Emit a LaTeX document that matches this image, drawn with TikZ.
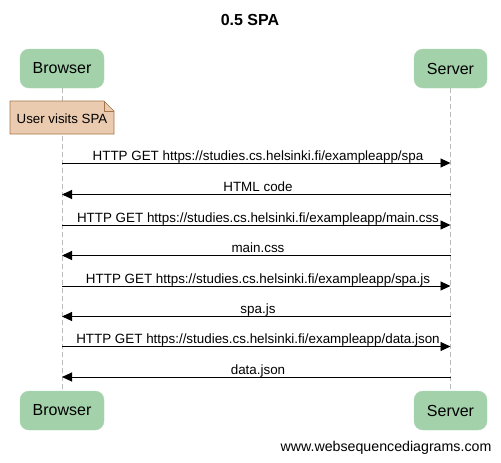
\documentclass[tikz,border=0pt]{standalone}
\usepackage{fontspec}
\setmainfont{Liberation Sans}
\usetikzlibrary{arrows.meta}
\definecolor{actfill}{HTML}{A2D1AA}
\definecolor{notefill}{HTML}{EBCBAF}
\definecolor{notedraw}{HTML}{A5764A}
\definecolor{lifegray}{HTML}{BBBBBB}
\begin{document}
\begin{tikzpicture}[x=1pt,y=-1pt,
  actor/.style={fill=actfill,draw=actfill!90!white,rounded corners=9pt,minimum width=84pt,minimum height=39pt,inner sep=0pt,font=\fontsize{16}{16}\selectfont},
  msg/.style={-{Triangle[length=10pt,width=9pt]},line width=0.9pt},
  lbl/.style={font=\fontsize{13.4}{15}\selectfont,inner sep=0pt,anchor=base},
  life/.style={draw=lifegray,dash pattern=on 5pt off 3pt,line width=0.8pt}]
\useasboundingbox (0,0) rectangle (501,463);
\node[font=\bfseries\fontsize{16}{18}\selectfont] (title) at (250,20) {0.5 SPA};
\node[actor] (b1) at (62,68.5) {Browser};
\node[actor,minimum width=73pt] (s1) at (450.5,68.5) {Server};
\node[actor] (b2) at (62,410.5) {Browser};
\node[actor,minimum width=73pt] (s2) at (450.5,410.5) {Server};
\draw[life] (b1.south) -- (b2.north);
\draw[life] (s1.south) -- (s2.north);
% note
\draw[fill=notefill,draw=notedraw,line width=0.7pt] (10,101) -- (104,101) -- (114,111) -- (114,134) -- (10,134) -- cycle;
\draw[draw=notedraw,line width=0.7pt] (104,101) -- (104,111) -- (114,111);
\node[font=\fontsize{13.3}{15}\selectfont] (note) at (62,119) {User visits SPA};
% messages
\foreach \y/\t/\d in {
  163/{HTTP GET https://studies.cs.helsinki.fi/exampleapp/spa}/r,
  194.5/{HTML code}/l,
  225/{HTTP GET https://studies.cs.helsinki.fi/exampleapp/main.css}/r,
  255.5/{main.css}/l,
  286/{HTTP GET https://studies.cs.helsinki.fi/exampleapp/spa.js}/r,
  316.5/{spa.js}/l,
  346.5/{HTTP GET https://studies.cs.helsinki.fi/exampleapp/data.json}/r,
  377/{data.json}/l}{
  \coordinate (L) at (62,\y);
  \coordinate (R) at (450.5,\y);
  \if r\d \draw[msg] (L) -- (R); \else \draw[msg] (R) -- (L); \fi
  \node[lbl] at (258,\y-3) {\t};
}
\node[font=\fontsize{14.2}{16}\selectfont] (footer) at (386,448) {www.websequencediagrams.com};
\end{tikzpicture}
\end{document}
